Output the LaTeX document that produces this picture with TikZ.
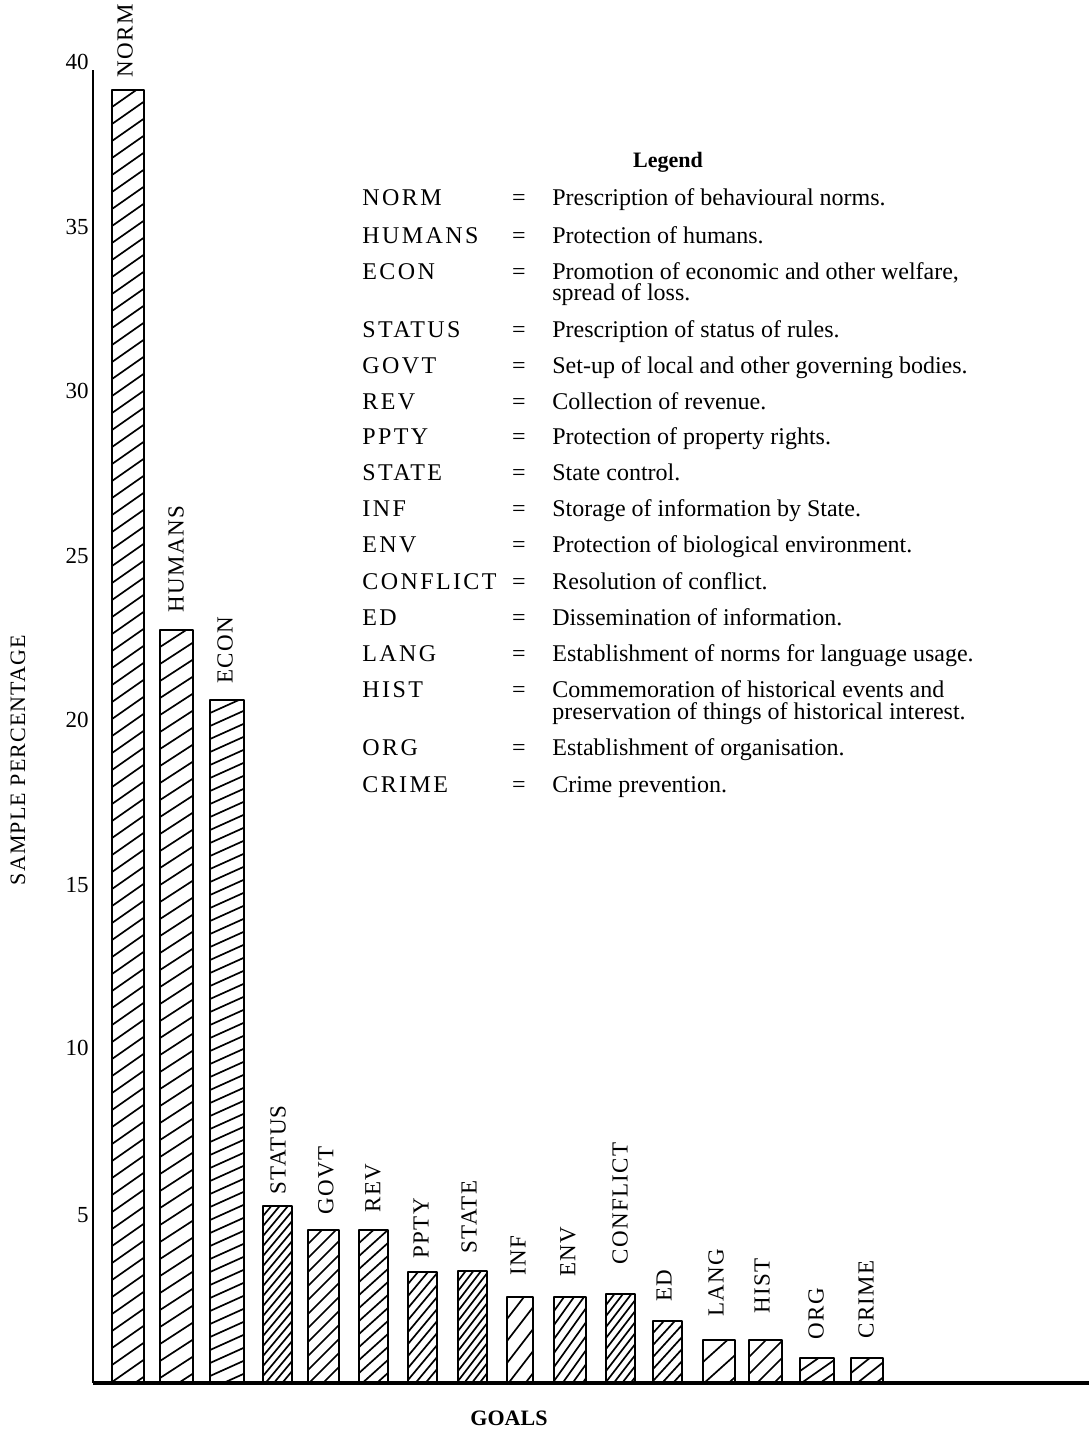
\documentclass[tikz,border=0pt]{standalone}
\usepackage{fontspec}
\setmainfont{Liberation Serif}
\newfontfamily\capsfont[LetterSpace=10]{Liberation Serif}
\newfontfamily\barfont[LetterSpace=6]{Liberation Serif}
\newfontfamily\axfont[LetterSpace=5]{Liberation Serif}
\newcommand{\goalbar}[5]{%
  \begin{scope}
    \clip (#1,#3) rectangle (#2,1383);
    \pgfmathsetmacro\gbw{#2-#1}
    \pgfmathsetmacro\gbs{#3}
    \pgfmathsetmacro\gbn{#3+#4}
    \pgfmathsetmacro\gbe{1383+#5*\gbw}
    \foreach \yy in {\gbs,\gbn,...,\gbe}
      \draw[hatch] (#1,\yy) -- (#2,{\yy-#5*\gbw});
  \end{scope}
  \draw[barline] (#1,1383) -- (#1,#3) -- (#2,#3) -- (#2,1383);
}
\tikzset{
  hatch/.style={line width=0.85pt},
  barline/.style={line width=1.2pt, line join=round},
  axisline/.style={line width=1pt},
  axisbase/.style={line width=1.8pt},
  ticklab/.style={anchor=east, inner sep=0pt, font=\fontsize{11.5}{13}\selectfont},
  barlab/.style={rotate=90, anchor=west, inner sep=0pt, font=\barfont\fontsize{11.5}{13}\selectfont},
  legab/.style={anchor=base west, inner sep=0pt, font=\capsfont\fontsize{12}{14}\selectfont},
  legeq/.style={anchor=base, inner sep=0pt, font=\fontsize{12}{14}\selectfont},
  legdesc/.style={anchor=base west, inner sep=0pt, font=\fontsize{12}{14}\selectfont},
  title/.style={inner sep=0pt, font=\bfseries\fontsize{11}{13}\selectfont},
}
\begin{document}
\begin{tikzpicture}[x=0.5pt, y=-0.5pt]
\useasboundingbox (0,0) rectangle (1089,1432);
\fill[white] (0,0) rectangle (1089,1432);

% bars
\goalbar{112}{144}{90}{17}{0.7}
\goalbar{160}{193}{630}{17}{0.65}
\goalbar{210}{244}{700}{13}{0.45}
\goalbar{263}{292}{1206}{10}{1.2}
\goalbar{308}{339}{1230}{14}{1.0}
\goalbar{359}{388}{1230}{13}{0.9}
\goalbar{408}{437}{1272}{12}{1.2}
\goalbar{458}{487}{1271}{10}{1.3}
\goalbar{507}{533}{1297}{22}{1.3}
\goalbar{554}{586}{1297}{14}{1.4}
\goalbar{606}{635}{1294}{11}{1.3}
\goalbar{653}{682}{1321}{12}{1.1}
\goalbar{703}{735}{1340}{22}{0.9}
\goalbar{749}{782}{1340}{17}{1.0}
\goalbar{800}{834}{1358}{13}{0.7}
\goalbar{851}{883}{1358}{15}{0.8}

% axes
\coordinate (ytop) at (93,70);
\coordinate (origin) at (93,1383);
\coordinate (xend) at (1089,1383);
\draw[axisline] (ytop) -- (origin);
\draw[axisbase] (origin) -- (xend);

% tick labels
\node[ticklab] (t40) at (89,62) {40};
\node[ticklab] (t35) at (89,227) {35};
\node[ticklab] (t30) at (89,391) {30};
\node[ticklab] (t25) at (89,556) {25};
\node[ticklab] (t20) at (89,720) {20};
\node[ticklab] (t15) at (89,885) {15};
\node[ticklab] (t10) at (89,1048) {10};
\node[ticklab] (t5) at (89,1215) {5};

% axis titles
\node[rotate=90, inner sep=0pt, font=\axfont\fontsize{11}{13}\selectfont] (ylab) at (18,760) {SAMPLE PERCENTAGE};
\node[title] (xlab) at (509,1418) {GOALS};

% bar labels
\node[barlab] (lNORM) at (125,78) {NORM};
\node[barlab] (lHUMANS) at (176,613) {HUMANS};
\node[barlab] (lECON) at (225,684) {ECON};
\node[barlab] (lSTATUS) at (278,1195) {STATUS};
\node[barlab] (lGOVT) at (326,1215) {GOVT};
\node[barlab] (lREV) at (373,1213) {REV};
\node[barlab] (lPPTY) at (421,1259) {PPTY};
\node[barlab] (lSTATE) at (469,1254) {STATE};
\node[barlab] (lINF) at (518,1276) {INF};
\node[barlab] (lENV) at (568,1277) {ENV};
\node[barlab] (lCONFLICT) at (620,1265) {CONFLICT};
\node[barlab] (lED) at (664,1302) {ED};
\node[barlab] (lLANG) at (716,1317) {LANG};
\node[barlab] (lHIST) at (762,1314) {HIST};
\node[barlab] (lORG) at (816,1340) {ORG};
\node[barlab] (lCRIME) at (866,1339) {CRIME};

% legend
\node[title, anchor=base] (legend) at (668,167) {Legend};
\foreach \ab/\desc/\yb [count=\i] in {
  NORM/Prescription of behavioural norms./205,
  HUMANS/Protection of humans./243,
  ECON/{Promotion of economic and other welfare,}/279,
  STATUS/Prescription of status of rules./337,
  GOVT/Set-up of local and other governing bodies./373,
  REV/Collection of revenue./409,
  PPTY/Protection of property rights./444,
  STATE/State control./480,
  INF/Storage of information by State./516,
  ENV/Protection of biological environment./552,
  CONFLICT/Resolution of conflict./589,
  ED/Dissemination of information./625,
  LANG/Establishment of norms for language usage./661,
  HIST/Commemoration of historical events and/697,
  ORG/Establishment of organisation./755,
  CRIME/Crime prevention./792}{
  \node[legab] (ab\i) at (362,\yb) {\ab};
  \node[legeq] (eq\i) at (519,\yb) {=};
  \node[legdesc] (d\i) at (552,\yb) {\desc};
}
\node[legdesc] (d3b) at (552,300) {spread of loss.};
\node[legdesc] (d14b) at (552,719) {preservation of things of historical interest.};
\end{tikzpicture}
\end{document}
